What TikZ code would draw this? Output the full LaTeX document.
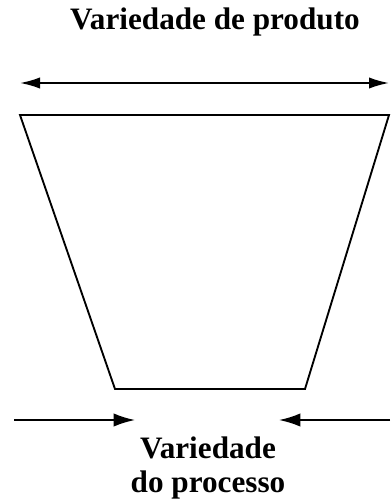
\documentclass[tikz,border=0pt]{standalone}
\usepackage{fontspec}
\setmainfont{Liberation Serif}
\usetikzlibrary{arrows.meta}

\tikzset{
  label/.style={font=\fontsize{23.4}{25}\selectfont\bfseries, align=center, inner sep=0pt},
  span/.style={line width=1.4pt, -{Latex[length=16pt,width=10pt]}},
  funnel/.style={line width=1.4pt, line join=miter}
}

\begin{document}
\begin{tikzpicture}[x=0.75pt,y=-0.75pt]
        \useasboundingbox (0,0) rectangle (390,504);
        % titulo
        \node[label] (produto) at (215,22) {Variedade de produto};
        \coordinate (topL) at (20,83);
        \coordinate (topR) at (389,83);
        \draw[span,{Latex[length=15pt,width=8.5pt]}-{Latex[length=15pt,width=8.5pt]}] (topL) -- (topR);
        % funil
        \draw[funnel] (20,115) -- (389,115) -- (305,389) -- (115,389) -- cycle;
        % setas de baixo
        \coordinate (botL) at (14,420);
        \coordinate (tipL) at (135,420);
        \coordinate (botR) at (390,420);
        \coordinate (tipR) at (279,420);
        \draw[span] (botL) -- (tipL);
        \draw[span] (botR) -- (tipR);
        \node[label] (processo) at (208,468) {Variedade\\do processo};
\end{tikzpicture}
\end{document}
